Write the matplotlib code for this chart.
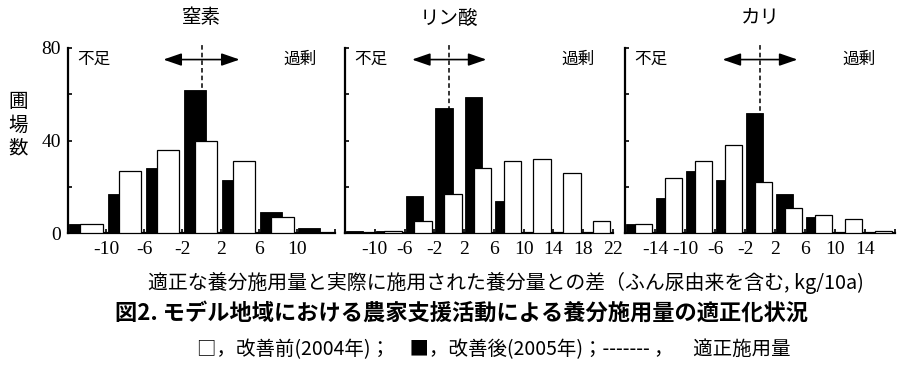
import numpy as np
import matplotlib.pyplot as plt

plt.rcParams['font.family'] = ['Noto Sans CJK JP', 'DejaVu Sans']

# ---- data ----
titles = ['窒素', 'リン酸', 'カリ']

n_bins = [-14, -10, -6, -2, 2, 6, 10]
n_after = [4, 17, 28, 62, 23, 9, 2]       # 2005 (black)
n_before = [4, 27, 36, 40, 31, 7, 0]      # 2004 (white)

p_bins = [-14, -10, -6, -2, 2, 6, 10, 14, 18]
p_after = [1, 1, 16, 54, 59, 14, 0, 0, 0]
p_before = [0, 1, 5, 17, 28, 31, 32, 26, 5]

k_bins = [-18, -14, -10, -6, -2, 2, 6, 10, 14]
k_after = [4, 15, 27, 23, 52, 17, 7, 0, 0]
k_before = [4, 24, 31, 38, 22, 11, 8, 6, 1]

bins_all = [n_bins, p_bins, k_bins]
after_all = [n_after, p_after, k_after]
before_all = [n_before, p_before, k_before]

xlims = [(-14, 14), (-14, 22), (-18, 18)]
tick_labels = [[-10, -6, -2, 2, 6, 10],
               [-10, -6, -2, 2, 6, 10, 14, 18, 22],
               [-14, -10, -6, -2, 2, 6, 10, 14]]
arrow_half = [4, 5, 5]

fig = plt.figure(figsize=(9.1, 3.65), dpi=100)
W, H = 910, 365
boxes = [(68, 335), (345, 613), (625, 895)]
y_bot, y_top = 233, 48

for i in range(3):
    l, r = boxes[i]
    ax = fig.add_axes([l / W, 1 - y_bot / H, (r - l) / W, (y_bot - y_top) / H])
    b = np.array(bins_all[i], dtype=float)
    x0, x1 = xlims[i]

    # optimum line behind bars
    ax.plot([0, 0], [0, 82], color='black', lw=1.1, ls=(0, (3, 2)),
            clip_on=False, zorder=1)
    ax.bar(b + 0.15, after_all[i], width=2.3, align='edge', color='black',
           edgecolor='black', lw=0.6, zorder=2)
    ax.bar(b + 1.3, before_all[i], width=2.35, align='edge', color='white',
           edgecolor='black', lw=0.9, zorder=3)

    ax.annotate('', xy=(arrow_half[i], 75), xytext=(-arrow_half[i], 75),
                arrowprops=dict(arrowstyle='<|-|>,head_length=1.1,head_width=0.38',
                                mutation_scale=10, shrinkA=0, shrinkB=0,
                                lw=1.2, color='black'), zorder=4)

    span = x1 - x0
    ax.text(x0 + span * 0.035, 75, '不足', ha='left', va='center', fontsize=12)
    ax.text(x0 + span * 0.93, 75, '過剰', ha='right', va='center', fontsize=12)
    ax.text(0, 93, titles[i], ha='center', va='center', fontsize=14,
            clip_on=False)

    ax.set_xlim(x0, x1)
    ax.set_ylim(0, 80)
    ticks = np.arange(x0, x1 + 0.1, 4)
    ax.set_xticks(ticks)
    ax.set_xticklabels([str(int(t)) if int(t) in tick_labels[i] else ''
                        for t in ticks],
                       fontfamily='Liberation Serif', fontsize=14)
    ax.set_yticks([0, 20, 40, 60, 80])
    if i == 0:
        ax.set_yticklabels(['0', '', '40', '', '80'],
                           fontfamily='Liberation Serif', fontsize=14)
    else:
        ax.set_yticklabels([])
    ax.tick_params(axis='both', direction='in', length=3, width=1.2, pad=5)
    ax.tick_params(axis='x', pad=6)
    for s in ['top', 'right']:
        ax.spines[s].set_visible(False)
    for s in ['left', 'bottom']:
        ax.spines[s].set_linewidth(1.6)

fig.text(18 / W, 1 - 125 / H, '圃\n場\n数', ha='center', va='center',
         fontsize=14, linespacing=1.15)

fig.text(0.556, 1 - 283 / H,
         '適正な養分施用量と実際に施用された養分量との差（ふん尿由来を含む, kg/10a)',
         ha='center', va='center', fontsize=14.3)
fig.text(0.507, 1 - 313 / H,
         '図2. モデル地域における農家支援活動による養分施用量の適正化状況',
         ha='center', va='center', fontsize=16, fontweight='bold')
fig.text(0.543, 1 - 350 / H,
         '□，改善前(2004年)；　■，改善後(2005年)；------- ，　適正施用量',
         ha='center', va='center', fontsize=14)

fig.savefig('out.png', dpi=100)
